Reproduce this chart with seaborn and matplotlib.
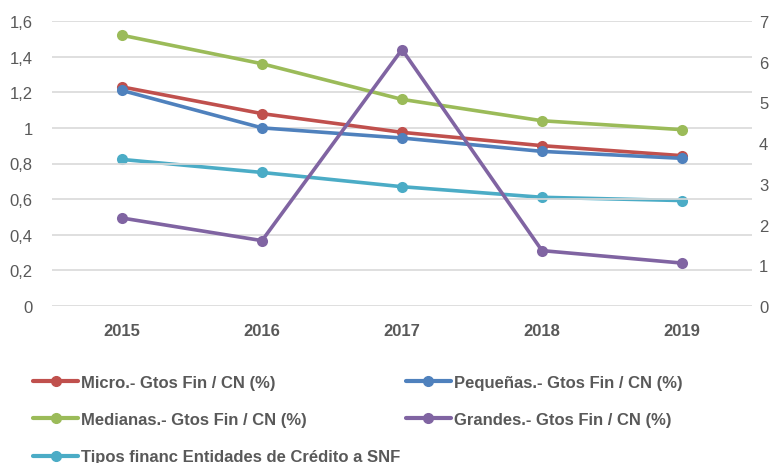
import matplotlib
matplotlib.use("Agg")
import matplotlib.pyplot as plt
import pandas as pd
import seaborn as sns
from matplotlib.lines import Line2D

# Data
years = ["2015", "2016", "2017", "2018", "2019"]
micro = [1.23, 1.08, 0.975, 0.90, 0.844]
pequenas = [1.21, 1.00, 0.943, 0.868, 0.829]
medianas = [1.52, 1.36, 1.16, 1.04, 0.99]
grandes = [0.494, 0.367, 1.44, 0.311, 0.241]
tipos = [3.60, 3.28, 2.93, 2.67, 2.59]  # secondary axis

left_ticks = [0, 0.2, 0.4, 0.6, 0.8, 1, 1.2, 1.4, 1.6]
left_labels = ["0", "0,2", "0,4", "0,6", "0,8", "1", "1,2", "1,4", "1,6"]
right_ticks = [0, 1, 2, 3, 4, 5, 6, 7]

names = ["Micro.- Gtos Fin / CN (%)", "Pequeñas.- Gtos Fin / CN (%)",
         "Medianas.- Gtos Fin / CN (%)", "Grandes.- Gtos Fin / CN (%)"]
tipos_name = "Tipos financ Entidades de Crédito a SNF"
colors = ["#C0504D", "#4F81BD", "#9BBB59", "#8064A2"]
tipos_color = "#4BACC6"

sns.set_theme(style="white")
plt.rcParams['font.family'] = ['Liberation Sans', 'DejaVu Sans']

txt = "#595959"

fig = plt.figure(figsize=(7.76, 4.64), dpi=100)
ax = fig.add_axes([52 / 776, 1 - 307 / 464, 700 / 776, 285 / 464])
ax2 = ax.twinx()

df = pd.DataFrame({"Year": years * 4,
                   "Serie": [n for n in names for _ in years],
                   "Valor": micro + pequenas + medianas + grandes})
df_t = pd.DataFrame({"Year": years, "Valor": tipos})

for y in left_ticks:
    ax.axhline(y, color="#D9D9D9", lw=1.2, zorder=0)

# secondary series first, primary lines on top
sns.lineplot(data=df_t, x="Year", y="Valor", ax=ax2, color=tipos_color,
             marker="o", markersize=8, markeredgewidth=0, lw=2.6, sort=False)
sns.lineplot(data=df, x="Year", y="Valor", hue="Serie", palette=colors,
             hue_order=names, ax=ax, marker="o", markersize=8,
             markeredgewidth=0, lw=2.6, sort=False, legend=False)

ax.set_zorder(ax2.get_zorder() + 1)
ax.patch.set_visible(False)

ax.set_xlim(-0.5, 4.5)
ax.set_ylim(0, 1.6)
ax2.set_ylim(0, 7)
ax.set_yticks(left_ticks)
ax.set_yticklabels(left_labels)
ax2.set_yticks(right_ticks)
ax.set_xlabel("")
ax.set_ylabel("")
ax2.set_ylabel("")

for a in (ax, ax2):
    for s in a.spines.values():
        s.set_visible(False)
    a.tick_params(length=0, labelsize=12, colors=txt)
ax.tick_params(axis="y", pad=14)
ax2.tick_params(axis="y", pad=5)
for lab in ax.get_xticklabels():
    lab.set_fontweight("bold")
    lab.set_fontsize(12)
ax.tick_params(axis="x", pad=12)

# Legend: two columns, row order Micro|Pequeñas, Medianas|Grandes, Tipos
handles = {n: Line2D([], [], color=c, lw=3, marker="o", markersize=7)
           for n, c in zip(names, colors)}
handles[tipos_name] = Line2D([], [], color=tipos_color, lw=3, marker="o", markersize=7)
order = [names[0], names[2], tipos_name, names[1], names[3]]
leg = fig.legend([handles[n] for n in order], order, ncol=2,
                 loc="upper left", bbox_to_anchor=(33 / 776, 1 - 376 / 464),
                 frameon=False, borderpad=0, borderaxespad=0,
                 handlelength=2.7, handletextpad=0.2,
                 columnspacing=0.3, labelspacing=1.33,
                 prop={"size": 12, "weight": "bold"})
for t in leg.get_texts():
    t.set_color(txt)

fig.savefig("out.png", dpi=100)
